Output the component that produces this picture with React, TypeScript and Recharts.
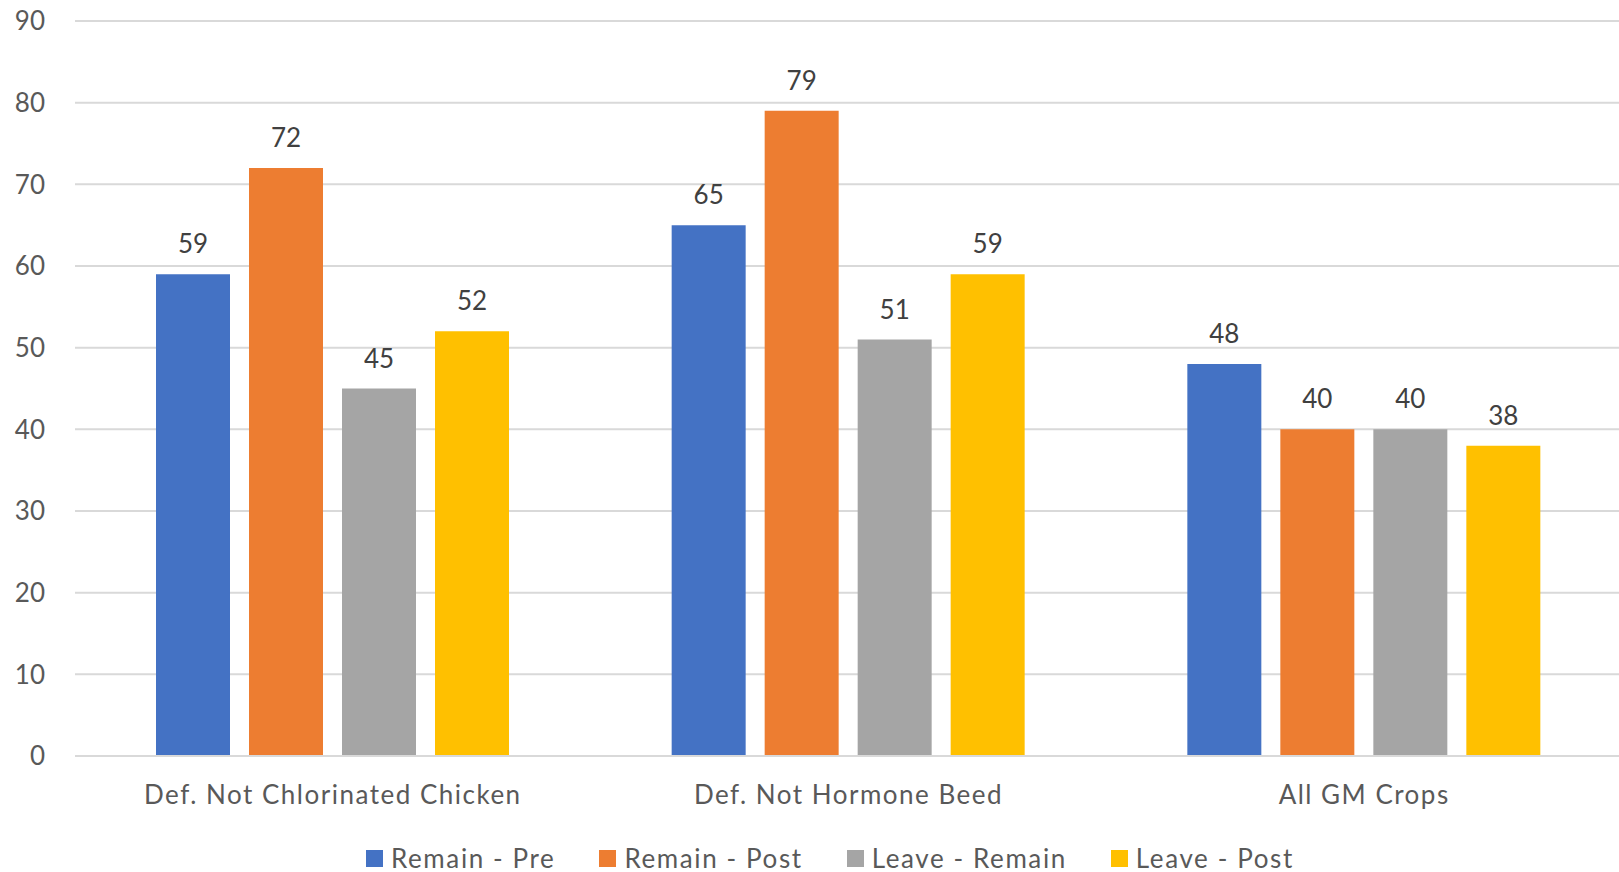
import React from 'react';
import { Bar, BarChart, CartesianGrid, LabelList, Legend, XAxis, YAxis } from 'recharts';

const categories = ['Def. Not Chlorinated Chicken', 'Def. Not Hormone Beed', 'All GM Crops'];
const remainPre = [59, 65, 48];
const remainPost = [72, 79, 40];
const leaveRemain = [45, 51, 40];
const leavePost = [52, 59, 38];
const yTicks = [0, 10, 20, 30, 40, 50, 60, 70, 80, 90];

const series = [
    { key: 'Remain - Pre', values: remainPre, color: '#4472C4' },
    { key: 'Remain - Post', values: remainPost, color: '#ED7D31' },
    { key: 'Leave - Remain', values: leaveRemain, color: '#A5A5A5' },
    { key: 'Leave - Post', values: leavePost, color: '#FFC000' },
];

const chartData = categories.map((name, i) => {
    const row: Record<string, string | number> = { name };
    series.forEach((s) => {
        row[s.key] = s.values[i];
    });
    return row;
});

const FONT = 'Lato, "Open Sans", sans-serif';

function renderLegend() {
    return (
        <div
            style={{
                height: 44,
                paddingTop: 16,
                paddingLeft: 366,
                boxSizing: 'border-box',
                display: 'flex',
                alignItems: 'center',
                fontFamily: FONT,
                fontSize: 26,
                letterSpacing: 1.6,
                color: '#595959',
            }}
        >
            {series.map((s) => (
                <div key={s.key} style={{ display: 'flex', alignItems: 'center', marginRight: 44 }}>
                    <span style={{ width: 17, height: 17, background: s.color, marginRight: 8 }} />
                    <span style={{ lineHeight: '28px' }}>{s.key}</span>
                </div>
            ))}
        </div>
    );
}

function App() {
    return (
        <div style={{ position: 'absolute', left: 0, top: 0, background: '#fff' }}>
            <BarChart
                width={1619}
                height={872}
                data={chartData}
                margin={{ top: 21, right: -3, left: 0, bottom: 0 }}
                barSize={74}
                barGap={19}
            >
                <CartesianGrid vertical={false} stroke='#d9d9d9' strokeWidth={2} />
                <XAxis
                    dataKey='name'
                    height={72}
                    axisLine={{ stroke: '#d9d9d9', strokeWidth: 2 }}
                    tickLine={false}
                    tickSize={0}
                    tickMargin={30}
                    tick={{ fill: '#595959', fontSize: 26, fontFamily: FONT, letterSpacing: 1.5 }}
                />
                <YAxis
                    width={75}
                    domain={[0, 90]}
                    ticks={yTicks}
                    axisLine={false}
                    tickLine={false}
                    tickSize={0}
                    tickMargin={30}
                    tick={{ fill: '#595959', fontSize: 26, fontFamily: FONT }}
                />
                <Legend verticalAlign='bottom' content={renderLegend} />
                {series.map((s) => (
                    <Bar key={s.key} dataKey={s.key} fill={s.color} isAnimationActive={false}>
                        <LabelList
                            dataKey={s.key}
                            position='top'
                            offset={21}
                            fill='#404040'
                            fontSize={26}
                            fontFamily={FONT}
                        />
                    </Bar>
                ))}
            </BarChart>
        </div>
    );
}

export default App;
